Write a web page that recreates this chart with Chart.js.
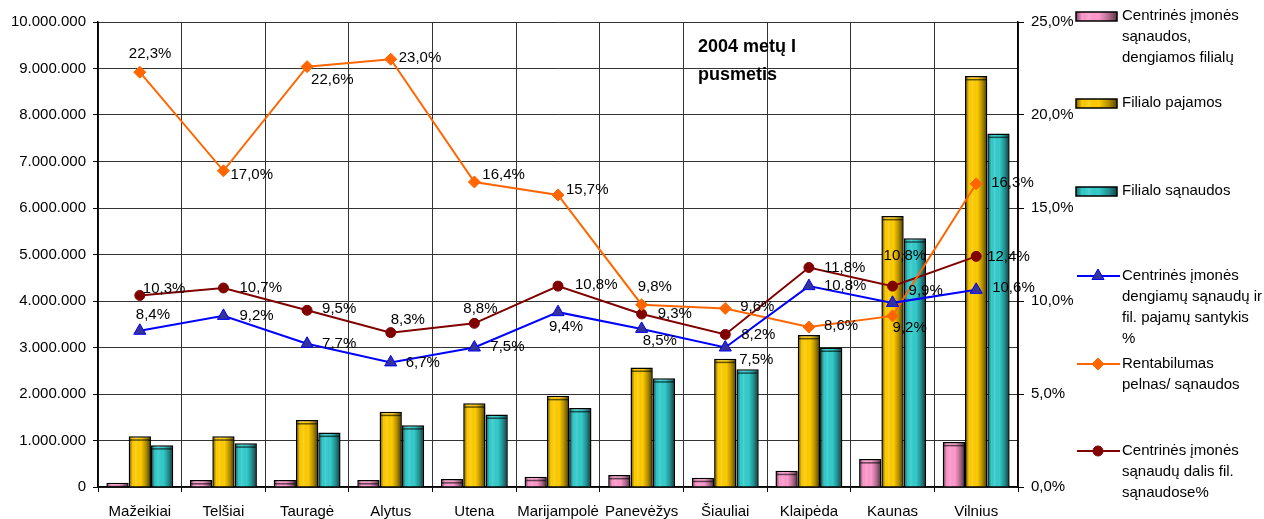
<!DOCTYPE html>
<html>
<head>
<meta charset="utf-8">
<script src="https://cdn.jsdelivr.net/npm/chart.js@4.4.1/dist/chart.umd.min.js"></script>
<style>
  html, body { margin: 0; padding: 0; background: #fff; }
  canvas { display: block; }
</style>
</head>
<body>
<canvas id="chart" width="1264" height="519"></canvas>
<script>
// data
const categories = ['Mažeikiai', 'Telšiai', 'Tauragė', 'Alytus', 'Utena', 'Marijampolė', 'Panevėžys', 'Šiauliai', 'Klaipėda', 'Kaunas', 'Vilnius'];
const centralCosts = [90000, 150000, 150000, 150000, 170000, 220000, 260000, 200000, 350000, 600000, 970000];
const branchIncome = [1090000, 1090000, 1440000, 1620000, 1800000, 1960000, 2570000, 2760000, 3270000, 5830000, 8840000];
const branchCosts = [900000, 940000, 1170000, 1330000, 1560000, 1700000, 2340000, 2530000, 3000000, 5350000, 7600000];
const coveredRatio = [8.4, 9.2, 7.7, 6.7, 7.5, 9.4, 8.5, 7.5, 10.8, 9.9, 10.6];
const profitability = [22.3, 17.0, 22.6, 23.0, 16.4, 15.7, 9.8, 9.6, 8.6, 9.2, 16.3];
const centralShare = [10.3, 10.7, 9.5, 8.3, 8.8, 10.8, 9.3, 8.2, 11.8, 10.8, 12.4];

const titleLines = ['2004 metų I', 'pusmetis'];
const legendLines = [
    ['Centrinės įmonės', 'sąnaudos,', 'dengiamos filialų'],
    ['Filialo pajamos'],
    ['Filialo sąnaudos'],
    ['Centrinės įmonės', 'dengiamų sąnaudų ir', 'fil. pajamų santykis', '%'],
    ['Rentabilumas', 'pelnas/ sąnaudos'],
    ['Centrinės įmonės', 'sąnaudų dalis fil.', 'sąnaudose%']
];

// where each value label sits relative to its point [dx, dy]
const labelOffsets = {
    3: [[-4, -16], [16, 0], [15, 0], [15, 0], [16, -1], [-9, 15], [1, 12], [14, 12], [15, 0], [16, -12], [16, -2]],
    4: [[-11, -18], [7, 4], [4, 13], [8, -1], [8, -7], [8, -5], [-4, -18], [15, -2], [15, -1], [0, 12], [15, -1]],
    5: [[3, -7], [16, 0], [15, -1], [0, -13], [-11, -14], [17, -1], [16, 0], [16, 0], [15, 0], [-9, -30], [11, 0]]
};
const legendRows = [16, 103, 191, 276, 364, 451];

const FONT = "'Liberation Sans', Arial, sans-serif";
Chart.defaults.font.family = FONT;
Chart.defaults.font.size = 15;
Chart.defaults.color = '#000';

function fmtMoney(v) {
    return String(v).replace(/\B(?=(\d{3})+(?!\d))/g, '.');
}
function fmtPct(v) {
    return v.toFixed(1).replace('.', ',') + '%';
}

// cylinder-like shading laid over each bar after the library draws it
function shadeRect(ctx, left, top, w, h) {
    let g = ctx.createLinearGradient(left, 0, left + w, 0);
    g.addColorStop(0, 'rgba(0,0,0,0.5)');
    g.addColorStop(0.15, 'rgba(0,0,0,0.0)');
    g.addColorStop(0.3, 'rgba(255,255,255,0.12)');
    g.addColorStop(0.55, 'rgba(0,0,0,0.0)');
    g.addColorStop(0.8, 'rgba(0,0,0,0.3)');
    g.addColorStop(1, 'rgba(0,0,0,0.65)');
    ctx.fillStyle = g;
    ctx.fillRect(left, top, w, h);
}

const barShade = {
    id: 'barShade',
    afterDatasetDraw(chart, args) {
        if (args.meta.type !== 'bar') return;
        let ctx = chart.ctx;
        ctx.save();
        args.meta.data.forEach(el => {
            let p = el.getProps(['x', 'y', 'base', 'width'], true);
            let left = p.x - p.width / 2 + 1;
            let w = p.width - 2;
            let h = p.base - p.y - 1;
            if (h <= 0) return;
            shadeRect(ctx, left, p.y + 1, w, h);
            // top rim
            ctx.fillStyle = 'rgba(0,0,0,0.6)';
            ctx.fillRect(left, p.y + 3, w, 1.5);
        });
        ctx.restore();
    }
};

const valueLabels = {
    id: 'valueLabels',
    afterDatasetsDraw(chart) {
        let ctx = chart.ctx;
        ctx.save();
        ctx.font = '15px ' + FONT;
        ctx.fillStyle = '#000';
        ctx.textAlign = 'left';
        ctx.textBaseline = 'middle';
        Object.keys(labelOffsets).forEach(di => {
            let meta = chart.getDatasetMeta(Number(di));
            let values = chart.data.datasets[di].data;
            meta.data.forEach((pt, i) => {
                let off = labelOffsets[di][i];
                ctx.fillText(fmtPct(values[i]), pt.x + off[0], pt.y + off[1]);
            });
        });
        ctx.restore();
    }
};

const sideLegend = {
    id: 'sideLegend',
    afterDraw(chart) {
        let ctx = chart.ctx;
        ctx.save();

        // title inside the plot
        ctx.font = 'bold 18px ' + FONT;
        ctx.fillStyle = '#000';
        ctx.textAlign = 'left';
        ctx.textBaseline = 'middle';
        ctx.fillText(titleLines[0], 698, 47);
        ctx.fillText(titleLines[1], 698, 75);

        ctx.font = '15px ' + FONT;
        chart.data.datasets.forEach((ds, i) => {
            let y = legendRows[i];
            if (ds.type === 'line') {
                ctx.strokeStyle = ds.borderColor;
                ctx.lineWidth = 2;
                ctx.beginPath();
                ctx.moveTo(1077, y);
                ctx.lineTo(1120, y);
                ctx.stroke();
                ctx.fillStyle = ds.pointBackgroundColor;
                ctx.strokeStyle = ds.pointBorderColor;
                ctx.lineWidth = 1;
                Chart.helpers.drawPoint(ctx, {
                    pointStyle: ds.pointStyle, radius: ds.pointRadius, rotation: 0, borderWidth: 1
                }, 1098, y);
            } else {
                ctx.fillStyle = ds.backgroundColor;
                ctx.fillRect(1076, y - 4, 41, 9);
                shadeRect(ctx, 1076, y - 4, 41, 9);
                ctx.strokeStyle = '#000';
                ctx.lineWidth = 1.5;
                ctx.strokeRect(1076, y - 4, 41, 9);
            }
            ctx.fillStyle = '#000';
            legendLines[i].forEach((line, k) => {
                ctx.fillText(line, 1122, y + k * 21);
            });
        });
        ctx.restore();
    }
};

function barSet(label, data, color) {
    return {
        type: 'bar',
        label: label,
        data: data,
        yAxisID: 'y',
        backgroundColor: color,
        borderColor: '#000',
        borderWidth: 1.5,
        categoryPercentage: 0.8,
        barPercentage: 1.0,
        order: 2
    };
}

function lineSet(label, data, color, fill, style, radius) {
    return {
        type: 'line',
        label: label,
        data: data,
        yAxisID: 'y1',
        borderColor: color,
        borderWidth: 2,
        pointStyle: style,
        pointRadius: radius,
        pointBackgroundColor: fill,
        pointBorderColor: color,
        pointBorderWidth: 1,
        tension: 0,
        order: 1
    };
}

let ctx = document.getElementById('chart').getContext('2d');
let chart = new Chart(ctx, {
    data: {
        labels: categories,
        datasets: [
            barSet(legendLines[0].join(' '), centralCosts, '#FF99CC'),
            barSet(legendLines[1].join(' '), branchIncome, '#FFCC00'),
            barSet(legendLines[2].join(' '), branchCosts, '#33CCCC'),
            lineSet(legendLines[3].join(' '), coveredRatio, '#0000FF', '#333399', 'triangle', 7),
            lineSet(legendLines[4].join(' '), profitability, '#FF6600', '#FF6600', 'rectRot', 6),
            lineSet(legendLines[5].join(' '), centralShare, '#800000', '#800000', 'circle', 5)
        ]
    },
    options: {
        responsive: false,
        devicePixelRatio: 1,
        animation: false,
        layout: { padding: { top: 22, left: 0, right: 0, bottom: 0 } },
        plugins: {
            legend: { display: false },
            tooltip: { enabled: false }
        },
        scales: {
            x: {
                grid: { color: '#333', offset: true, tickLength: 5, tickColor: '#000' },
                border: { color: '#000', width: 1.5 },
                ticks: { padding: 11, maxRotation: 0, autoSkip: false, font: { size: 15 } },
                afterFit(scale) { scale.height = 32; }
            },
            y: {
                position: 'left',
                min: 0,
                max: 10000000,
                grid: { color: '#333', tickLength: 5, tickColor: '#000' },
                border: { color: '#000', width: 1.5 },
                ticks: { stepSize: 1000000, padding: 7, callback: v => fmtMoney(v) },
                afterFit(scale) { scale.width = 98; }
            },
            y1: {
                position: 'right',
                min: 0,
                max: 25,
                grid: { drawOnChartArea: false, tickLength: 6, tickColor: '#000' },
                border: { color: '#000', width: 1.5 },
                ticks: { stepSize: 5, padding: 7, callback: v => fmtPct(v) },
                afterFit(scale) { scale.width = 246; }
            }
        }
    },
    plugins: [barShade, valueLabels, sideLegend]
});
</script>
</body>
</html>
